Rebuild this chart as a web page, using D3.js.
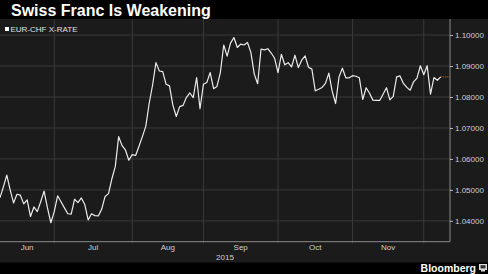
<!DOCTYPE html>
<html>
<head>
<meta charset="utf-8">
<script src="https://cdn.jsdelivr.net/npm/d3@7"></script>
<style>
  body { margin: 0; background: #000; }
  svg { display: block; }
</style>
</head>
<body>
<svg id="chart" width="488" height="274"></svg>
<script>
// EUR-CHF daily close, trading days from 9 Jun 2015 to 8 Dec 2015
const rates = [
  1.0475, 1.0510, 1.0548, 1.0500, 1.0458, 1.0486, 1.0483, 1.0455, 1.0468, 1.0414,
  1.0445, 1.0430, 1.0462, 1.0496, 1.0442, 1.0394, 1.0430, 1.0481, 1.0462, 1.0442,
  1.0423, 1.0422, 1.0470, 1.0459, 1.0474, 1.0453, 1.0403, 1.0423, 1.0417, 1.0416,
  1.0438, 1.0479, 1.0488, 1.0536, 1.0575, 1.0672, 1.0643, 1.0629, 1.0596, 1.0614,
  1.0611, 1.0641, 1.0672, 1.0705, 1.0779, 1.0838, 1.0911, 1.0884, 1.0882, 1.0841,
  1.0836, 1.0773, 1.0737, 1.0769, 1.0773, 1.0799, 1.0813, 1.0798, 1.0863, 1.0762,
  1.0841, 1.0847, 1.0879, 1.0827, 1.0834, 1.0879, 1.0968, 1.0932, 1.0974, 1.0992,
  1.0960, 1.0971, 1.0968, 1.0976, 1.0944, 1.0874, 1.0843, 1.0955, 1.0952, 1.0956,
  1.0942, 1.0925, 1.0879, 1.0938, 1.0904, 1.0911, 1.0897, 1.0935, 1.0895, 1.0919,
  1.0933, 1.0896, 1.0890, 1.0820, 1.0825, 1.0831, 1.0844, 1.0877, 1.0818, 1.0779,
  1.0865, 1.0893, 1.0862, 1.0862, 1.0869, 1.0867, 1.0862, 1.0792, 1.0830, 1.0812,
  1.0790, 1.0789, 1.0789, 1.0809, 1.0830, 1.0791, 1.0802, 1.0865, 1.0868, 1.0844,
  1.0831, 1.0822, 1.0849, 1.0861, 1.0901, 1.0872, 1.0901, 1.0809, 1.0863, 1.0854,
  1.0865
];
const yTicks = [1.04, 1.05, 1.06, 1.07, 1.08, 1.09, 1.10];
const monthNames = ["Jun", "Jul", "Aug", "Sep", "Oct", "Nov"];
const yearLabel = "2015";
const seriesName = "EUR-CHF X-RATE";
const title = "Swiss Franc Is Weakening";

// trading days (weekdays) for the x categories
const dates = [];
for (let d = new Date(2015, 5, 9); dates.length < rates.length; d.setDate(d.getDate() + 1)) {
  if (d.getDay() !== 0 && d.getDay() !== 6) dates.push(new Date(d));
}
const data = rates.map((v, i) => ({ i: i, date: dates[i], v: v }));

// index of the first trading day of each month
const monthStarts = [];
data.forEach((d, i) => {
  if (i > 0 && d.date.getMonth() !== data[i - 1].date.getMonth()) monthStarts.push(i);
});

const svg = d3.select("#chart");
const width = +svg.attr("width");
const height = +svg.attr("height");

const plot = { left: 0, right: 450, top: 19, bottom: 241.7 };

svg.append("rect")
  .attr("x", 0).attr("y", 0).attr("width", width).attr("height", height)
  .attr("fill", "#000");
svg.append("rect")
  .attr("x", 0).attr("y", plot.top).attr("width", width).attr("height", 262.5 - plot.top)
  .attr("fill", "#1b1b1b");

const x = d3.scaleLinear().domain([0, 132.74]).range([plot.left, plot.right]);
const y = d3.scaleLinear().domain([1.03328, 1.10519]).range([plot.bottom, plot.top]);

// horizontal grid
svg.append("g")
  .selectAll("line")
  .data(yTicks)
  .join("line")
  .attr("x1", plot.left).attr("x2", plot.right)
  .attr("y1", d => y(d)).attr("y2", d => y(d))
  .attr("stroke", "#3a3a3a").attr("stroke-width", 1);

// vertical grid at month boundaries
svg.append("g")
  .selectAll("line")
  .data(monthStarts)
  .join("line")
  .attr("x1", d => x(d)).attr("x2", d => x(d))
  .attr("y1", plot.top).attr("y2", plot.bottom + 2)
  .attr("stroke", "#3a3a3a").attr("stroke-width", 1);

// frame: bottom and right
svg.append("path")
  .attr("d", `M${plot.left},${plot.bottom}H${plot.right}V${plot.top}`)
  .attr("fill", "none").attr("stroke", "#8a8a8a").attr("stroke-width", 1);

// right axis
const yAxis = svg.append("g")
  .attr("transform", `translate(${plot.right},0)`)
  .call(d3.axisRight(y).tickValues(yTicks).tickFormat(d3.format(".5f")).tickSize(3).tickPadding(2));
yAxis.select(".domain").remove();
yAxis.selectAll(".tick line").attr("stroke", "#bbb");
yAxis.selectAll("text")
  .attr("fill", "#d0d0d0")
  .attr("font-family", "'Liberation Sans Narrow', 'Arial Narrow', 'Liberation Sans', sans-serif")
  .attr("font-size", 8);

// month labels centred between boundaries
const bounds = [0].concat(monthStarts);
svg.append("g")
  .selectAll("text")
  .data(monthNames)
  .join("text")
  .attr("x", (d, i) => (x(bounds[i]) + x(bounds[i + 1])) / 2)
  .attr("y", 250)
  .attr("text-anchor", "middle")
  .attr("fill", "#d0d0d0")
  .attr("font-family", "'Liberation Sans Narrow', 'Arial Narrow', 'Liberation Sans', sans-serif")
  .attr("font-size", 8)
  .text(d => d);

svg.append("text")
  .attr("x", (plot.left + plot.right) / 2)
  .attr("y", 260)
  .attr("text-anchor", "middle")
  .attr("fill", "#d0d0d0")
  .attr("font-family", "'Liberation Sans Narrow', 'Arial Narrow', 'Liberation Sans', sans-serif")
  .attr("font-size", 8)
  .text(yearLabel);

// last value marker
const last = data[data.length - 1];
svg.append("line")
  .attr("x1", x(last.i)).attr("x2", plot.right)
  .attr("y1", y(last.v)).attr("y2", y(last.v))
  .attr("stroke", "#c8742c").attr("stroke-width", 1)
  .attr("stroke-dasharray", "1,1");

// series line
const line = d3.line().x(d => x(d.i)).y(d => y(d.v));
svg.append("path")
  .datum(data)
  .attr("d", line)
  .attr("fill", "none")
  .attr("stroke", "#ececec")
  .attr("stroke-width", 1.2)
  .attr("stroke-linejoin", "round");

// legend
svg.append("rect")
  .attr("x", 5).attr("y", 27).attr("width", 4).attr("height", 4)
  .attr("fill", "#fff");
svg.append("text")
  .attr("x", 10.5).attr("y", 31.8)
  .attr("fill", "#e0e0e0")
  .attr("font-family", "'Liberation Sans Narrow', 'Arial Narrow', 'Liberation Sans', sans-serif")
  .attr("font-size", 8)
  .text(seriesName);

// title
svg.append("text")
  .attr("x", 11).attr("y", 15.5)
  .attr("fill", "#fff")
  .attr("font-family", "'Liberation Sans', Arial, sans-serif")
  .attr("font-weight", "bold")
  .attr("font-size", 16)
  .text(title);

// footer
svg.append("text")
  .attr("x", 476).attr("y", 271.5)
  .attr("text-anchor", "end")
  .attr("fill", "#fff")
  .attr("font-family", "'Liberation Sans', Arial, sans-serif")
  .attr("font-weight", "bold")
  .attr("font-size", 10.5)
  .text("Bloomberg");
const icon = svg.append("g").attr("transform", "translate(479,264)");
icon.append("rect").attr("width", 8).attr("height", 6).attr("fill", "#ddd");
icon.append("rect").attr("x", 1.5).attr("y", 1.2).attr("width", 5).attr("height", 3.2).attr("fill", "#333");
icon.append("rect").attr("x", 2).attr("y", 6).attr("width", 4).attr("height", 1.5).attr("fill", "#ddd");
</script>
</body>
</html>
